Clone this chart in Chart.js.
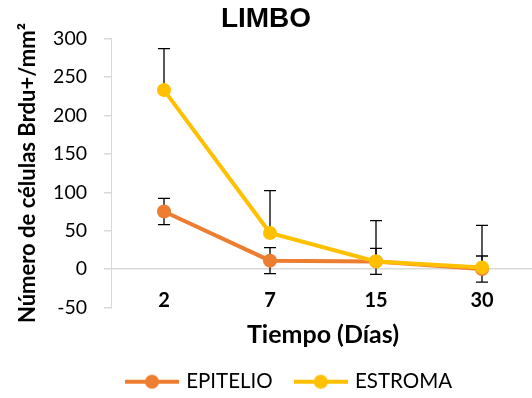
<!DOCTYPE html>
<html>
<head>
<meta charset="utf-8">
<script src="https://cdn.jsdelivr.net/npm/chart.js@4/dist/chart.umd.min.js"></script>
<style>
  html, body { margin: 0; padding: 0; background: #fff; overflow: hidden; }
  #wrap { width: 532px; height: 398px; position: relative; }
</style>
</head>
<body>
<div id="wrap"><canvas id="c"></canvas></div>
<script>
// Days after treatment
const categories = ['2', '7', '15', '30'];

// BrdU+ cells per mm² (mean) and error (SD)
const epitelio = [75, 11, 10, 0];
const epitelioErr = [17, 17, 17, 17];
const estroma = [233, 47, 10, 2];
const estromaErr = [54, 55, 53, 55];

// Value axis ticks
const yTicks = [-50, 0, 50, 100, 150, 200, 250, 300];

const ORANGE = '#ED7D31';
const YELLOW = '#FFC000';

// Line-and-marker swatch for the legend
function legendIcon(color) {
  const cv = document.createElement('canvas');
  cv.width = 54; cv.height = 16;
  const g = cv.getContext('2d');
  g.strokeStyle = color; g.lineWidth = 4;
  g.beginPath(); g.moveTo(0, 8); g.lineTo(54, 8); g.stroke();
  g.fillStyle = color;
  g.beginPath(); g.arc(27, 8, 7, 0, Math.PI * 2); g.fill();
  return cv;
}

// Error bars drawn beneath the series markers
const errorBars = {
  id: 'errorBars',
  beforeDatasetsDraw(chart) {
    const {ctx, scales: {y}} = chart;
    ctx.save();
    ctx.strokeStyle = '#000';
    ctx.lineWidth = 1.3;
    chart.data.datasets.forEach((ds, di) => {
      const meta = chart.getDatasetMeta(di);
      meta.data.forEach((pt, i) => {
        const v = ds.data[i], e = ds.errors[i];
        const x = pt.x;
        const yTop = y.getPixelForValue(v + e);
        const yBot = ds.bothSides ? y.getPixelForValue(v - e) : y.getPixelForValue(v);
        ctx.beginPath();
        ctx.moveTo(x, yTop); ctx.lineTo(x, yBot);
        ctx.moveTo(x - 6, yTop); ctx.lineTo(x + 6, yTop);
        if (ds.bothSides) { ctx.moveTo(x - 6, yBot); ctx.lineTo(x + 6, yBot); }
        ctx.stroke();
      });
    });
    ctx.restore();
  }
};

// Let the plot area run to the right edge and nudge the legend row right
const layoutTweaks = {
  id: 'layoutTweaks',
  afterLayout(chart) {
    const x = chart.scales.x;
    const d = 535 - x.right;
    if (d) {
      x.right += d; x.width += d; x.configure();
      chart.chartArea.right += d; chart.chartArea.width += d;
    }
    if (chart.legend) { chart.legend.left += 48; }
  }
};

const icons = [legendIcon(ORANGE), legendIcon(YELLOW)];

new Chart(document.getElementById('c'), {
  type: 'line',
  data: {
    labels: categories,
    datasets: [
      {
        label: 'EPITELIO', data: epitelio, errors: epitelioErr, bothSides: true,
        borderColor: ORANGE, backgroundColor: ORANGE, borderWidth: 4,
        pointRadius: 7, pointBorderWidth: 0, pointBackgroundColor: ORANGE,
        order: 1
      },
      {
        label: 'ESTROMA', data: estroma, errors: estromaErr, bothSides: false,
        borderColor: YELLOW, backgroundColor: YELLOW, borderWidth: 4,
        pointRadius: 7, pointBorderWidth: 0, pointBackgroundColor: YELLOW,
        order: 0
      }
    ]
  },
  options: {
    responsive: true,
    maintainAspectRatio: false,
    animation: false,
    events: [],
    layout: { padding: { left: 0, right: 0, top: 0, bottom: -4 } },
    plugins: {
      title: {
        display: true, text: 'LIMBO', color: '#000',
        font: { family: '"Liberation Sans", Arial, sans-serif', size: 28, weight: 'bold' },
        padding: { top: 2, bottom: 3 }
      },
      legend: {
        position: 'bottom',
        labels: {
          usePointStyle: true,
          pointStyleWidth: 48,
          padding: 24,
          color: '#000',
          font: { family: 'Lato, sans-serif', size: 20.5 },
          generateLabels(chart) {
            return chart.data.datasets.map((ds, i) => ({
              text: ds.label, pointStyle: icons[i], fillStyle: ds.borderColor,
              strokeStyle: ds.borderColor, lineWidth: 0, hidden: false,
              datasetIndex: i, fontColor: '#000'
            }));
          }
        }
      },
      tooltip: { enabled: false }
    },
    scales: {
      x: {
        offset: true,
        grid: { display: false },
        border: { display: false },
        ticks: {
          color: '#000', mirror: true, padding: -5,
          font: { family: 'Lato, sans-serif', size: 20, weight: 'bold' }
        },
        title: {
          display: true, text: 'Tiempo (Días)', color: '#000',
          font: { family: 'Lato, sans-serif', size: 25, weight: 'bold' },
          padding: { top: 0, bottom: -2 }
        },
        afterFit(scale) { scale.height = 40; }
      },
      y: {
        min: yTicks[0], max: yTicks[yTicks.length - 1],
        afterBuildTicks(scale) { scale.ticks = yTicks.map(v => ({ value: v })); },
        grid: {
          color: ctx => (ctx.tick && ctx.tick.value === 0) ? '#D9D9D9' : 'rgba(0,0,0,0)',
          lineWidth: 1.5,
          tickColor: '#D9D9D9',
          tickLength: 7
        },
        border: { display: true, color: '#D9D9D9', width: 1 },
        ticks: {
          color: '#000', padding: 17,
          font: { family: 'Lato, sans-serif', size: 19.5 }
        },
        title: {
          display: true, text: 'Número de células Brdu+/mm²', color: '#000',
          font: { family: 'Lato, sans-serif', size: 22, weight: 'bold' },
          padding: { top: 15, bottom: 0 }
        },
        afterFit(scale) { scale.width = 111; }
      }
    }
  },
  plugins: [errorBars, layoutTweaks]
});
</script>
</body>
</html>
